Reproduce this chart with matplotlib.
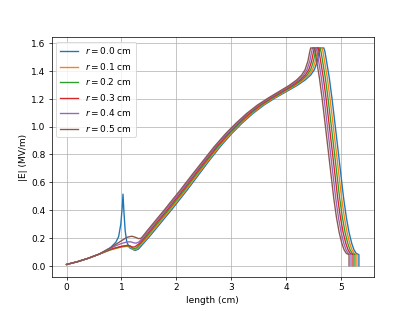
import matplotlib.pyplot as plt

# radial positions (cm)
radii = [0.0, 0.1, 0.2, 0.3, 0.4, 0.5]

# --- entrance region (up to the dip after the iris), one list per radius ---
head_x_r0 = [0, 0.2, 0.4, 0.6, 0.8, 0.9, 0.95, 0.99, 1.015, 1.03, 1.045, 1.07, 1.1, 1.15, 1.25, 1.31]
head_E_r0 = [0.01, 0.03, 0.055, 0.085, 0.13, 0.17, 0.21, 0.3, 0.42, 0.515, 0.4, 0.25, 0.17, 0.13, 0.11, 0.12]

head_x_r1 = [0, 0.2, 0.4, 0.6, 0.8, 0.9, 1.0, 1.1, 1.17, 1.23, 1.28]
head_E_r1 = [0.01, 0.03, 0.055, 0.085, 0.115, 0.125, 0.135, 0.14, 0.135, 0.115, 0.12]

head_x_r2 = [0, 0.2, 0.4, 0.6, 0.8, 0.9, 1.0, 1.1, 1.17, 1.22, 1.27]
head_E_r2 = [0.01, 0.03, 0.055, 0.085, 0.115, 0.128, 0.138, 0.145, 0.14, 0.125, 0.127]

head_x_r3 = [0, 0.2, 0.4, 0.6, 0.8, 0.9, 1.0, 1.1, 1.15, 1.2, 1.25]
head_E_r3 = [0.01, 0.03, 0.055, 0.085, 0.12, 0.13, 0.14, 0.147, 0.145, 0.135, 0.137]

head_x_r4 = [0, 0.2, 0.4, 0.6, 0.8, 0.9, 1.0, 1.1, 1.17, 1.22, 1.27, 1.32]
head_E_r4 = [0.01, 0.03, 0.055, 0.085, 0.125, 0.145, 0.16, 0.172, 0.173, 0.166, 0.163, 0.172]

head_x_r5 = [0, 0.2, 0.4, 0.6, 0.8, 0.9, 1.0, 1.1, 1.19, 1.25, 1.31, 1.35]
head_E_r5 = [0.01, 0.03, 0.055, 0.085, 0.13, 0.155, 0.18, 0.205, 0.213, 0.206, 0.196, 0.197]

# --- ramp, plateau and fall: same field levels, positions per radius ---
ramp_E = [0.16, 0.205, 0.252, 0.3, 0.348, 0.405, 0.445, 0.545, 0.65, 0.755,
          0.855, 0.945, 1.025, 1.095, 1.155, 1.205, 1.25, 1.295, 1.335, 1.37,
          1.41, 1.47, 1.53, 1.565, 1.565, 1.54, 1.47, 1.35, 1.2, 1.0,
          0.83, 0.66, 0.49, 0.35, 0.24, 0.16, 0.115, 0.09, 0.08, 0.0]

ramp_x_r0 = [1.4, 1.5, 1.6, 1.7, 1.8, 1.92, 2.0, 2.2, 2.4, 2.6,
             2.8, 3.0, 3.2, 3.4, 3.6, 3.8, 4.0, 4.2, 4.35, 4.45,
             4.52, 4.57, 4.6, 4.62, 4.69, 4.71, 4.74, 4.79, 4.84, 4.9,
             4.95, 5.0, 5.05, 5.1, 5.15, 5.2, 5.24, 5.28, 5.33, 5.33]
ramp_x_r1 = [1.375, 1.475, 1.574, 1.674, 1.774, 1.894, 1.974, 2.175, 2.376, 2.578,
             2.778, 2.978, 3.178, 3.377, 3.576, 3.775, 3.973, 4.171, 4.319, 4.417,
             4.486, 4.536, 4.566, 4.586, 4.656, 4.674, 4.704, 4.754, 4.804, 4.864,
             4.914, 4.964, 5.014, 5.064, 5.114, 5.164, 5.204, 5.244, 5.294, 5.294]
ramp_x_r2 = [1.35, 1.45, 1.548, 1.648, 1.748, 1.868, 1.948, 2.15, 2.352, 2.556,
             2.756, 2.956, 3.156, 3.354, 3.552, 3.75, 3.946, 4.142, 4.288, 4.384,
             4.452, 4.502, 4.532, 4.552, 4.622, 4.638, 4.668, 4.718, 4.768, 4.828,
             4.878, 4.928, 4.978, 5.028, 5.078, 5.128, 5.168, 5.208, 5.258, 5.258]
ramp_x_r3 = [1.325, 1.425, 1.522, 1.622, 1.722, 1.842, 1.922, 2.125, 2.328, 2.534,
             2.734, 2.934, 3.134, 3.331, 3.528, 3.725, 3.919, 4.113, 4.257, 4.351,
             4.418, 4.468, 4.498, 4.518, 4.588, 4.602, 4.632, 4.682, 4.732, 4.792,
             4.842, 4.892, 4.942, 4.992, 5.042, 5.092, 5.132, 5.172, 5.222, 5.222]
ramp_x_r4 = [1.30, 1.40, 1.496, 1.596, 1.696, 1.816, 1.896, 2.10, 2.304, 2.512,
             2.712, 2.912, 3.112, 3.308, 3.504, 3.70, 3.892, 4.084, 4.226, 4.318,
             4.384, 4.434, 4.464, 4.484, 4.554, 4.566, 4.596, 4.646, 4.696, 4.756,
             4.806, 4.856, 4.906, 4.956, 5.006, 5.056, 5.096, 5.136, 5.186, 5.186]
ramp_x_r5 = [1.275, 1.375, 1.47, 1.57, 1.67, 1.79, 1.87, 2.075, 2.28, 2.49,
             2.69, 2.89, 3.09, 3.285, 3.48, 3.675, 3.865, 4.055, 4.195, 4.285,
             4.35, 4.40, 4.43, 4.45, 4.52, 4.53, 4.56, 4.61, 4.66, 4.72,
             4.77, 4.82, 4.87, 4.92, 4.97, 5.02, 5.06, 5.10, 5.15, 5.15]

# outer radii have a broader bump, so their ramp joins one point later
lengths = [head_x_r0 + ramp_x_r0, head_x_r1 + ramp_x_r1, head_x_r2 + ramp_x_r2,
           head_x_r3 + ramp_x_r3, head_x_r4 + ramp_x_r4[1:], head_x_r5 + ramp_x_r5[1:]]
fields = [head_E_r0 + ramp_E, head_E_r1 + ramp_E, head_E_r2 + ramp_E,
          head_E_r3 + ramp_E, head_E_r4 + ramp_E[1:], head_E_r5 + ramp_E[1:]]

fig, ax = plt.subplots(figsize=(6.4, 4.8), dpi=64.85)
for r, x, y in zip(radii, lengths, fields):
    ax.plot(x, y, label=r"$r = %.1f$ cm" % r)

ax.set_xlabel("length (cm)")
ax.set_ylabel("|E| (MV/m)")
ax.grid(True)
ax.legend(loc="upper left")

fig.savefig("out.png")
